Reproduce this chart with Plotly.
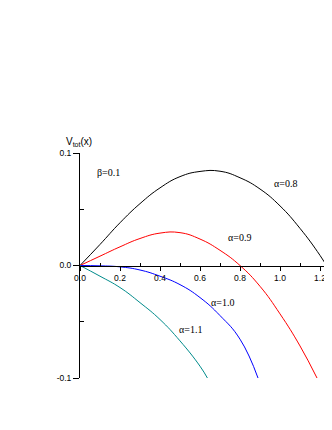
import plotly.graph_objects as go

# alpha = 0.8 (black)
x_a08 = [0, 0.1, 0.2, 0.3, 0.4, 0.5, 0.6, 0.7, 0.8, 0.9, 1.0, 1.1, 1.2, 1.26]
v_a08 = [0, 0.0187, 0.038, 0.055, 0.069, 0.079, 0.0836, 0.0838, 0.078, 0.068, 0.053, 0.033, 0.009, -0.008]
# alpha = 0.9 (red)
x_a09 = [0, 0.1, 0.2, 0.3, 0.4, 0.5, 0.6, 0.7, 0.8, 0.9, 1.0, 1.1, 1.185]
v_a09 = [0, 0.0083, 0.0166, 0.024, 0.0288, 0.0292, 0.0235, 0.0135, 0.0, -0.0185, -0.043, -0.0715, -0.1]
# alpha = 1.0 (blue)
x_a10 = [0, 0.1, 0.2, 0.3, 0.4, 0.5, 0.6, 0.7, 0.8, 0.89]
v_a10 = [0, -0.0003, -0.0012, -0.004, -0.0095, -0.017, -0.0285, -0.0445, -0.0655, -0.1]
# alpha = 1.1 (teal)
x_a11 = [0, 0.1, 0.2, 0.3, 0.4, 0.5, 0.6, 0.637]
v_a11 = [0, -0.0095, -0.0196, -0.033, -0.048, -0.067, -0.0895, -0.1]

x_ticks = [0.0, 0.2, 0.4, 0.6, 0.8, 1.0, 1.2]
y_ticks = [-0.1, 0.0, 0.1]

fig = go.Figure()
for xs, vs, col in [(x_a08, v_a08, "#000000"), (x_a09, v_a09, "#ff0000"),
                    (x_a10, v_a10, "#0000ff"), (x_a11, v_a11, "#008b8b")]:
    fig.add_trace(go.Scatter(x=xs, y=vs, mode="lines",
                             line=dict(color=col, width=1, shape="spline", smoothing=1.3),
                             showlegend=False, hoverinfo="skip"))

tickfont = dict(family="Liberation Sans, Arial", size=8.5, color="black")
fig.update_layout(
    width=324, height=422,
    margin=dict(l=72, r=0, t=145, b=52, autoexpand=False),
    paper_bgcolor="white", plot_bgcolor="white",
    xaxis=dict(range=[0, 1.26], tickvals=x_ticks, ticktext=[f"{v:.1f}" for v in x_ticks],
               showgrid=False, zeroline=False, showline=True, linecolor="black", linewidth=1,
               anchor="free", position=0.5, ticks="outside", ticklen=4, tickcolor="black",
               tickfont=tickfont, automargin=False,
               minor=dict(tickvals=[0.1, 0.3, 0.5, 0.7, 0.9, 1.1], ticks="inside", ticklen=3, tickcolor="black")),
    yaxis=dict(range=[-0.1, 0.1], tickvals=y_ticks, ticktext=["-0.1", "0.0", "0.1"],
               showgrid=False, zeroline=False, showline=True, linecolor="black", linewidth=1,
               ticks="outside", ticklen=6, tickcolor="black", tickfont=tickfont, automargin=False,
               minor=dict(tickvals=[-0.05, 0.05], ticks="inside", ticklen=4, tickcolor="black")),
)

serif = dict(family="Liberation Serif, Times New Roman", size=10, color="black")
notes = [("β=0.1", 0.075, 0.083), ("α=0.8", 0.96, 0.073), ("α=0.9", 0.73, 0.025),
         ("α=1.0", 0.646, -0.033), ("α=1.1", 0.483, -0.057)]
for t, xv, yv in notes:
    fig.add_annotation(x=xv, y=yv, text=t, showarrow=False, font=serif, xanchor="left", yanchor="middle")

fig.add_annotation(x=-0.005, y=1.0, xref="paper", yref="paper", text="V<sub>tot</sub>(x)",
                   showarrow=False, xanchor="center", yanchor="bottom", yshift=3,
                   font=dict(family="Liberation Sans, Arial", size=10, color="black"))

fig.write_html("out.html")
